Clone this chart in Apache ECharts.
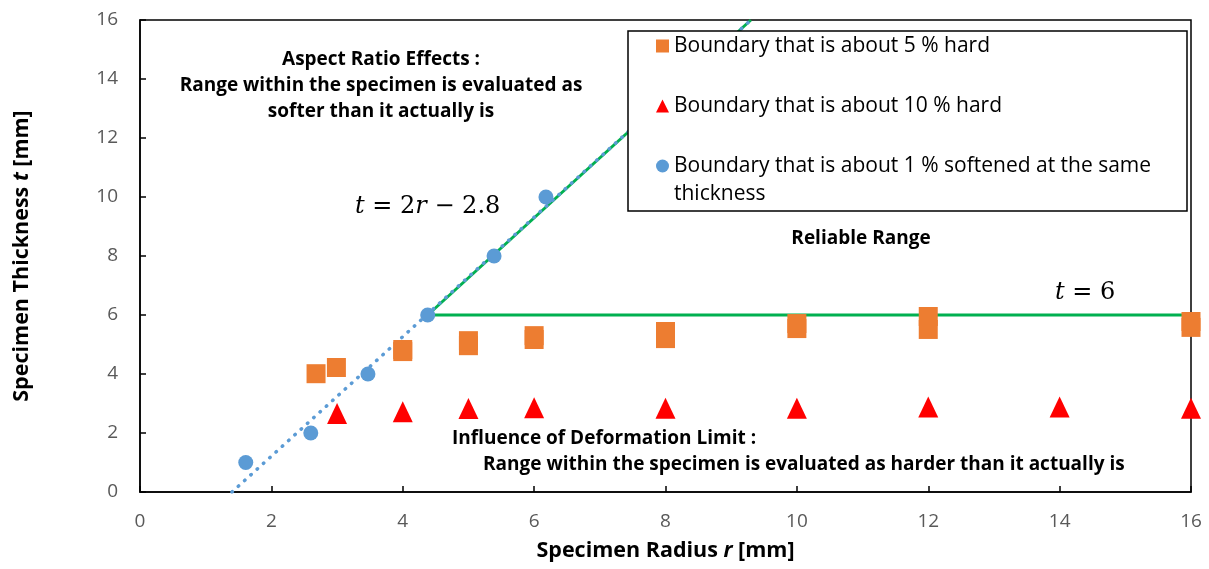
<!DOCTYPE html>
<html>
<head>
<meta charset="utf-8">
<script src="https://cdn.jsdelivr.net/npm/echarts@6/dist/echarts.min.js"></script>
<style>
html,body{margin:0;padding:0;background:#fff;}
#chart{width:1209px;height:569px;}
</style>
</head>
<body>
<div id="chart"></div>
<script>
// ---- data ----
const hard5R = [2.68, 2.99, 4.0, 4.0, 5.0, 5.0, 6.0, 6.0, 8.0, 8.0, 10.0, 10.0, 12.0, 12.0, 16.0, 16.0];
const hard5T = [4.01, 4.22, 4.76, 4.83, 4.96, 5.13, 5.17, 5.30, 5.20, 5.44, 5.54, 5.71, 5.51, 5.95, 5.58, 5.78];
const hard10R = [3, 4, 5, 6, 8, 10, 12, 14, 16];
const hard10T = [2.66, 2.72, 2.83, 2.86, 2.84, 2.84, 2.88, 2.88, 2.84];
const soft1R = [1.61, 2.6, 3.47, 4.38, 5.39, 6.18];
const soft1T = [1, 2, 4, 6, 8, 10];
const trendR = [1.4, 9.3];
const trendT = [0, 16];
const limitDiagR = [4.38, 9.3];
const limitDiagT = [6, 16];
const limitFlatR = [4.38, 16];
const limitFlatT = [6, 6];
const xTicks = [0, 2, 4, 6, 8, 10, 12, 14, 16];
const yTicks = [0, 2, 4, 6, 8, 10, 12, 14, 16];
const names = ['Boundary that is about 5 % hard', 'Boundary that is about 10 % hard', 'Boundary that is about 1 % softened at the same thickness'];

const zip = (a, b) => a.map((v, i) => [v, b[i]]);
const SANS = '"Open Sans", "Noto Sans", sans-serif';
const SERIF = '"DejaVu Serif", "Liberation Serif", serif';

const chart = echarts.init(document.getElementById('chart'), null, {renderer: 'canvas'});
const legendText = {fontFamily: SANS, fontSize: 21, color: '#000', lineHeight: 28};
const BOLD = 'bold 19px ' + SANS;
const mathRich = {i: {fontFamily: SERIF, fontSize: 24, fontStyle: 'italic', fill: '#000'},
                  n: {fontFamily: SERIF, fontSize: 24, fill: '#000'}};
const nameRich = {
  b: {fontFamily: SANS, fontSize: 21.5, fontWeight: 'bold', color: '#000'},
  i: {fontFamily: SANS, fontSize: 21.5, fontWeight: 'bold', fontStyle: 'italic', color: '#000'}
};

chart.setOption({
  animation: false,
  grid: {left: 140, right: 18, top: 20, bottom: 77, containLabel: false, outerBoundsMode: 'none',
    show: true, borderColor: '#000', borderWidth: 1.5, backgroundColor: 'transparent'},
  xAxis: {
    type: 'value', min: 0, max: 16, interval: 2,
    axisLine: {lineStyle: {color: '#000', width: 1.5}},
    axisTick: {inside: true, length: 6, lineStyle: {color: '#000', width: 1.5}},
    splitLine: {show: false},
    axisLabel: {color: '#595959', fontSize: 19, fontFamily: SANS, margin: 20,
      formatter: v => xTicks.includes(v) ? String(v) : ''},
    name: '{b|Specimen Radius }{i|r}{b| [mm]}',
    nameLocation: 'middle', nameGap: 48,
    nameTextStyle: {rich: nameRich}
  },
  yAxis: {
    type: 'value', min: 0, max: 16, interval: 2,
    axisLine: {lineStyle: {color: '#000', width: 1.5}},
    axisTick: {inside: true, length: 6, lineStyle: {color: '#000', width: 1.5}},
    splitLine: {show: false},
    axisLabel: {color: '#595959', fontSize: 19, fontFamily: SANS, margin: 22,
      formatter: v => yTicks.includes(v) ? String(v) : ''},
    name: '{b|Specimen Thickness }{i|t}{b| [mm]}',
    nameLocation: 'middle', nameGap: 107, nameRotate: 90,
    nameTextStyle: {rich: nameRich}
  },
  legend: [
    {
      data: [names[0], names[1]], orient: 'vertical', left: 656, top: 32,
      itemWidth: 13, itemHeight: 13, itemGap: 32, padding: 0, selectedMode: false,
      textStyle: legendText, z: 10
    },
    {
      data: [names[2]], orient: 'vertical', left: 656, top: 124,
      itemWidth: 13, itemHeight: 13, padding: 0, selectedMode: false,
      formatter: n => '\u00a0\n' + n.replace(' thickness', '\nthickness'),
      textStyle: legendText, z: 10
    }
  ],
  graphic: [
    {type: 'rect', z: 5, shape: {x: 628, y: 31, width: 559, height: 180},
      style: {fill: '#fff', stroke: '#000', lineWidth: 1.5}},
    {type: 'text', z: 6, style: {x: 381, y: 60, text: 'Aspect Ratio Effects :', align: 'center', verticalAlign: 'middle', font: BOLD, fill: '#000'}},
    {type: 'text', z: 6, style: {x: 381, y: 86, text: 'Range within the specimen is evaluated as', align: 'center', verticalAlign: 'middle', font: BOLD, fill: '#000'}},
    {type: 'text', z: 6, style: {x: 381, y: 112, text: 'softer than it actually is', align: 'center', verticalAlign: 'middle', font: BOLD, fill: '#000'}},
    {type: 'text', z: 6, style: {x: 861, y: 239, text: 'Reliable Range', align: 'center', verticalAlign: 'middle', font: BOLD, fill: '#000'}},
    {type: 'text', z: 6, style: {x: 452, y: 439, text: 'Influence of Deformation Limit :', align: 'left', verticalAlign: 'middle', font: BOLD, fill: '#000'}},
    {type: 'text', z: 6, style: {x: 483, y: 465, text: 'Range within the specimen is evaluated as harder than it actually is', align: 'left', verticalAlign: 'middle', font: BOLD, fill: '#000'}},
    {type: 'text', z: 6, style: {x: 355, y: 207, verticalAlign: 'middle', align: 'left',
      text: '{i|t}{n| = 2}{i|r}{n| \u2212 2.8}', rich: mathRich}},
    {type: 'text', z: 6, style: {x: 1055, y: 293, verticalAlign: 'middle', align: 'left',
      text: '{i|t}{n| = 6}', rich: mathRich}}
  ],
  series: [
    {type: 'line', name: 'limitDiag', data: zip(limitDiagR, limitDiagT), symbol: 'none', z: 1,
      lineStyle: {color: '#00B050', width: 3}, silent: true},
    {type: 'line', name: 'limitFlat', data: zip(limitFlatR, limitFlatT), symbol: 'none', z: 1,
      lineStyle: {color: '#00B050', width: 3}, silent: true},
    {type: 'line', name: 'trend', data: zip(trendR, trendT), symbol: 'none', z: 2,
      lineStyle: {color: '#5B9BD5', width: 3.5, type: [0.5, 8], cap: 'round'}, silent: true},
    {type: 'scatter', name: names[0], data: zip(hard5R, hard5T), symbol: 'rect', symbolSize: 19, z: 3,
      itemStyle: {color: '#ED7D31', opacity: 1}},
    {type: 'scatter', name: names[1], data: zip(hard10R, hard10T), symbol: 'triangle', symbolSize: [20, 21], z: 3,
      itemStyle: {color: '#FF0000', opacity: 1}},
    {type: 'scatter', name: names[2], data: zip(soft1R, soft1T), symbol: 'circle', symbolSize: 15, z: 3,
      itemStyle: {color: '#5B9BD5', opacity: 1}}
  ]
});
</script>
</body>
</html>
